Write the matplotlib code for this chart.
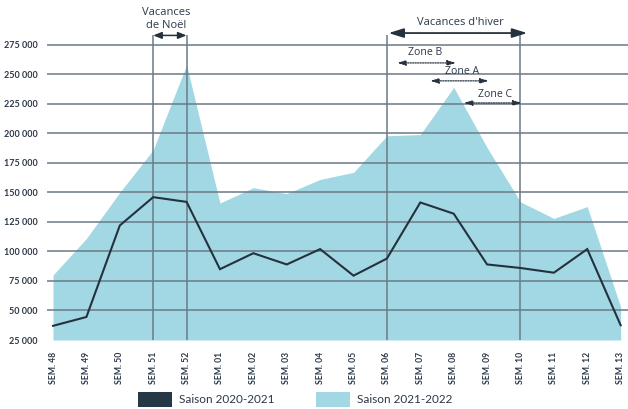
import matplotlib
matplotlib.use("Agg")
import matplotlib.pyplot as plt
from matplotlib.patches import Patch
import numpy as np

weeks = ["SEM. 48", "SEM. 49", "SEM. 50", "SEM. 51", "SEM. 52", "SEM. 01", "SEM. 02",
         "SEM. 03", "SEM. 04", "SEM. 05", "SEM. 06", "SEM. 07", "SEM. 08", "SEM. 09",
         "SEM. 10", "SEM. 11", "SEM. 12", "SEM. 13"]
saison_2020_2021 = [37000, 44500, 122000, 146000, 142000, 85000, 98500, 89000, 102000,
                    79500, 94000, 141500, 132000, 89000, 86000, 82000, 102000, 37500]
saison_2021_2022 = [80000, 111000, 150000, 186000, 258000, 141000, 154000, 149000, 161000,
                    167000, 198000, 199000, 239000, 188000, 142000, 128000, 138000, 53000]
y_ticks = [25000, 50000, 75000, 100000, 125000, 150000, 175000, 200000, 225000, 250000, 275000]
y_tick_labels = ["25 000", "50 000", "75 000", "100 000", "125 000", "150 000", "175 000",
                 "200 000", "225 000", "250 000", "275 000"]

AREA = "#a1d8e3"
LINE = "#25323d"
GRID = "#6c7987"
TEXT = "#2b3848"

fig = plt.figure(figsize=(6.28, 4.09), dpi=100)
ax = fig.add_axes([47 / 628, 1 - 340 / 409, 1 - 47 / 628, 340 / 409])

x = np.arange(len(weeks))
base = y_ticks[0]
ax.fill_between(x, base, saison_2021_2022, color=AREA, lw=0, zorder=1)
ax.plot(x, saison_2020_2021, color=LINE, lw=1.5, zorder=4, solid_joinstyle="miter")

ax.set_xlim(-0.18, 17.22)
ax.set_ylim(25000, 313000)

ax.set_yticks(y_ticks)
ax.set_yticklabels(y_tick_labels)
ax.set_xticks(x)
ax.set_xticklabels(weeks, rotation=90, va="top", ha="center")
ax.tick_params(axis="both", length=0, colors=TEXT)
ax.tick_params(axis="y", pad=6.5)
ax.tick_params(axis="x", pad=8.5)
for lab in ax.get_yticklabels():
    lab.set_fontfamily("Lato")
    lab.set_fontweight("bold")
    lab.set_fontsize(6.5)
for lab in ax.get_xticklabels():
    lab.set_fontfamily("Lato")
    lab.set_fontweight("bold")
    lab.set_fontsize(6.2)

ax.yaxis.grid(True, color=GRID, lw=1.1, zorder=3)
ax.set_axisbelow(False)
ax.yaxis.get_gridlines()[0].set_visible(False)
for s in ax.spines.values():
    s.set_visible(False)

# vertical markers for holidays
top_v = 283000
ax.vlines([3, 4, 10, 14], base, top_v, color=GRID, lw=1.1, zorder=3)

afont = dict(family="Open Sans", color=TEXT)

# Noel
ax.annotate("", xy=(3, 283000), xytext=(4, 283000),
            arrowprops=dict(arrowstyle="<|-|>,head_length=0.5,head_width=0.2", color=LINE, lw=1.1,
                            shrinkA=0, shrinkB=0))
ax.text(3.4, 296500, "Vacances\nde Noël", ha="center", va="center", fontsize=8,
        linespacing=1.25, **afont)

# Hiver
ax.annotate("", xy=(10.05, 285000), xytext=(14.2, 285000),
            arrowprops=dict(arrowstyle="<|-|>,head_length=0.9,head_width=0.28", color=LINE, lw=1.3,
                            shrinkA=0, shrinkB=0))
ax.text(12.2, 293800, "Vacances d'hiver", ha="center", va="center", fontsize=8, **afont)

zones = [("Zone B", 10.3, 12.07, 259700, 11.14, 268200),
         ("Zone A", 11.29, 13.05, 244500, 12.25, 252100),
         ("Zone C", 12.3, 14.04, 225800, 13.23, 232600)]
for name, x0, x1, yy, tx, ty in zones:
    ax.annotate("", xy=(x0, yy), xytext=(x1, yy),
                arrowprops=dict(arrowstyle="<|-|>,head_length=0.5,head_width=0.15", color=LINE,
                                lw=0.9, linestyle=(0, (1, 1)), shrinkA=0, shrinkB=0))
    ax.text(tx, ty, name, ha="center", va="center", fontsize=7.6, **afont)

handles = [Patch(facecolor="#263845", edgecolor="none", label="Saison 2020-2021"),
           Patch(facecolor=AREA, edgecolor="none", label="Saison 2021-2022")]
leg = fig.legend(handles=handles, loc="center", bbox_to_anchor=(0.47, 0.023), ncol=2,
                 frameon=False, handlelength=2.9, handleheight=1.5, handletextpad=0.6,
                 columnspacing=3.5, prop=dict(family="Lato", size=8.5))
for t in leg.get_texts():
    t.set_color(TEXT)

fig.savefig("out.png", dpi=100)
